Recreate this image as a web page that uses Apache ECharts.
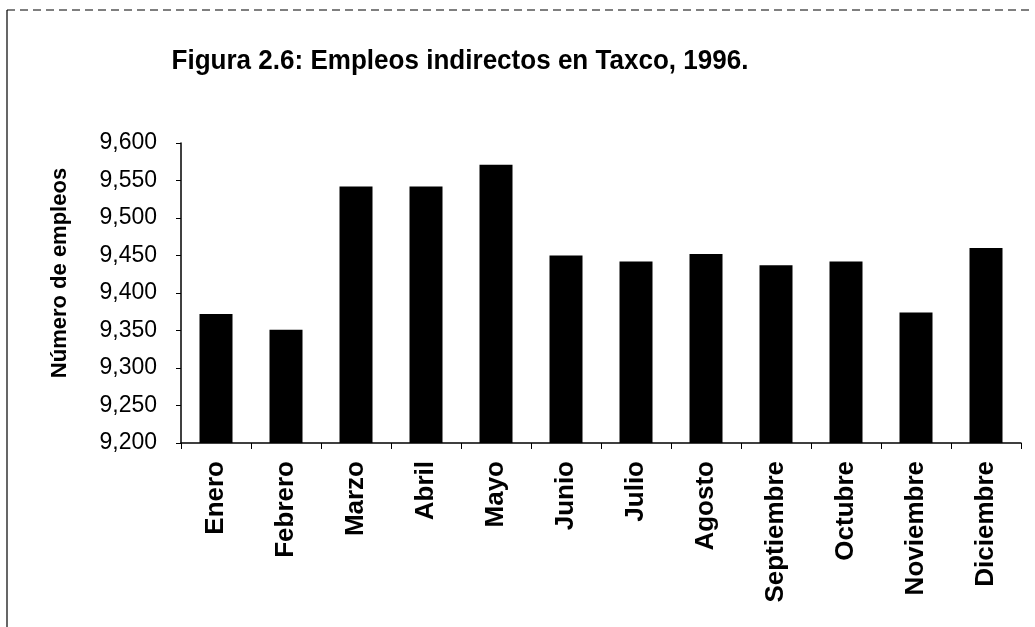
<!DOCTYPE html>
<html><head><meta charset="utf-8">
<script src="https://cdn.jsdelivr.net/npm/echarts@6/dist/echarts.min.js"></script>
<style>html,body{margin:0;padding:0;background:#fff}#c{width:1035px;height:627px}</style>
</head><body><div id="c"></div>
<script>
const titleText = 'Figura 2.6: Empleos indirectos en Taxco, 1996.';
const yAxisTitle = 'Número de empleos';
const months = ['Enero','Febrero','Marzo','Abril','Mayo','Junio','Julio','Agosto','Septiembre','Octubre','Noviembre','Diciembre'];
const empleos = [9372, 9351, 9542, 9542, 9571, 9450, 9442, 9452, 9437, 9442, 9374, 9460];
const yMin = 9200, yMax = 9600, yStep = 50;

const chart = echarts.init(document.getElementById('c'), null, {renderer:'canvas'});
chart.setOption({
  backgroundColor:'#fff',
  animation:false,
  grid:{left:181,right:14,top:143,bottom:184},
  xAxis:{type:'category',data:months,
    axisLine:{lineStyle:{color:'#000',width:1.5}},
    axisTick:{show:true,alignWithLabel:false,length:6,lineStyle:{color:'#000'}},
    axisLabel:{rotate:90,margin:18,interval:0,fontFamily:'"Liberation Sans",Arial,sans-serif',fontWeight:'bold',fontSize:26,color:'#000'}},
  yAxis:{type:'value',min:yMin,max:yMax,interval:yStep,
    name:yAxisTitle,nameLocation:'middle',nameGap:110,
    nameTextStyle:{fontFamily:'"Liberation Sans",Arial,sans-serif',fontWeight:'bold',fontSize:22,color:'#000',padding:[0,0,0,40]},
    axisLine:{show:true,lineStyle:{color:'#000',width:1.5}},
    axisTick:{show:true,length:5,lineStyle:{color:'#000'}},
    splitLine:{show:false},
    axisLabel:{margin:24,fontFamily:'"Liberation Sans",Arial,sans-serif',fontSize:23,color:'#000',
      formatter:v=>v.toLocaleString('en-US')}},
  series:[{type:'bar',data:empleos,barWidth:33,itemStyle:{color:'#000'}}],
  graphic:[
    {type:'text',x:460,y:61,scaleX:0.93,originX:0,
      style:{text:titleText,align:'center',verticalAlign:'middle',fill:'#000',
        font:'bold 28px "Liberation Sans", Arial, sans-serif'}},
    {type:'line',shape:{x1:7,y1:10,x2:7,y2:627},style:{stroke:'#000',lineWidth:1.2}},
    {type:'line',shape:{x1:7,y1:10,x2:1030,y2:10},style:{stroke:'#000',lineWidth:1.2,lineDash:[8,5]}}
  ]
});
</script></body></html>
